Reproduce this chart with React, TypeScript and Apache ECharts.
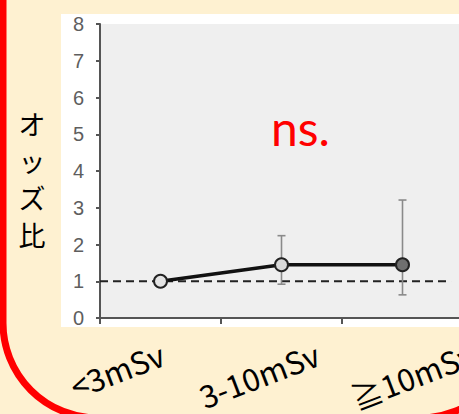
import React, { useEffect, useRef } from "react";
import * as echarts from "echarts";

// ---- data ----
const categories = ["<3mSv", "3-10mSv", "≧10mSv"];
const oddsRatio = [1.0, 1.45, 1.45];
const ciLow = [1.0, 0.92, 0.63];
const ciHigh = [1.0, 2.24, 3.21];
const yMin = 0;
const yMax = 8;
const yInterval = 1;
const referenceValue = 1;
const referenceExtent = [0, 0.967];
const yAxisTitle = "オッズ比";
const significance = "ns.";

// ---- styles ----
const markerFills = ["#e4e4e4", "#d9d9d9", "#6f6f6f"];

export default function App() {
  const ref = useRef<HTMLDivElement>(null);
  useEffect(() => {
    if (!ref.current) return;
    const chart = echarts.init(ref.current, null, { renderer: "svg" });
    const errData = categories
      .map((_, i) => [i, ciLow[i], ciHigh[i]])
      .filter((d) => d[2] - d[1] > 0.01);
    chart.setOption({
      animation: false,
      backgroundColor: "#FEF1D1",
      grid: [
        {
          left: 100,
          top: 24,
          bottom: 96,
          right: -4,
          containLabel: false,
          outerBoundsMode: "none",
          show: true,
          backgroundColor: "#EFEFEF",
          borderWidth: 0,
        },
        {
          // label band: the slide's category labels sit slightly wider apart
          left: 85,
          top: 24,
          bottom: 96,
          right: -91,
          containLabel: false,
          outerBoundsMode: "none",
          show: false,
        },
      ],
      xAxis: [
        {
          type: "category",
          gridIndex: 0,
          data: categories,
          boundaryGap: true,
          axisLine: { show: true, lineStyle: { color: "#555", width: 2 } },
          axisTick: { show: true, length: 6, lineStyle: { color: "#555", width: 2 } },
          axisLabel: { show: false },
          splitLine: { show: false },
        },
        {
          type: "value",
          gridIndex: 0,
          min: 0,
          max: 1,
          show: false,
        },
        {
          type: "category",
          gridIndex: 1,
          data: categories,
          boundaryGap: true,
          axisLine: { show: false },
          axisTick: { show: false },
          axisLabel: {
            interval: 0,
            rotate: 21,
            margin: 34,
            color: "#000",
            fontSize: 31,
            fontFamily: "Noto Sans CJK JP",
          },
          splitLine: { show: false },
        },
      ],
      yAxis: [
        {
          type: "value",
          gridIndex: 0,
          min: yMin,
          max: yMax,
          interval: yInterval,
          axisLine: { show: true, lineStyle: { color: "#555", width: 2 } },
          axisTick: { show: true, length: 4, lineStyle: { color: "#555", width: 2 } },
          axisLabel: {
            margin: 16,
            color: "#5e5e5e",
            fontSize: 20,
            fontFamily: "Liberation Sans",
          },
          splitLine: { show: false },
        },
        {
          type: "value",
          gridIndex: 1,
          min: yMin,
          max: yMax,
          interval: yInterval,
          show: false,
        },
      ],
      graphic: [
        {
          type: "rect",
          z: -100,
          silent: true,
          shape: { x: 61, y: 14, width: 420, height: 313 },
          style: { fill: "#FFFFFF" },
        },
        {
          type: "text",
          z: 100,
          style: {
            x: 32,
            y: 179,
            text: yAxisTitle.split("").join("\n"),
            fontSize: 27,
            lineHeight: 37,
            fontFamily: "Noto Sans CJK JP",
            fill: "#000",
            align: "center",
            verticalAlign: "middle",
          },
        },
        {
          type: "text",
          z: 100,
          style: {
            x: 271,
            y: 127,
            text: significance,
            fontSize: 48,
            fontFamily: "Lato",
            fill: "#FF0000",
            align: "left",
            verticalAlign: "middle",
          },
        },
        {
          type: "rect",
          z: 100,
          silent: true,
          shape: { x: 3, y: -100, width: 512, height: 518, r: 95 },
          style: { fill: "none", stroke: "#FF0000", lineWidth: 7 },
        },
      ],
      series: [
        {
          type: "line",
          xAxisIndex: 1,
          yAxisIndex: 0,
          data: referenceExtent.map((x) => [x, referenceValue]),
          symbol: "none",
          z: 1,
          lineStyle: { color: "#222", width: 2, type: [8, 5] },
        },
        {
          type: "custom",
          xAxisIndex: 0,
          yAxisIndex: 0,
          z: 2,
          data: errData,
          renderItem: (params: any, api: any) => {
            const x = api.value(0);
            const lo = api.coord([x, api.value(1)]);
            const hi = api.coord([x, api.value(2)]);
            const cap = 4;
            const st = { stroke: "#8a8a8a", lineWidth: 1.6 };
            return {
              type: "group",
              children: [
                { type: "line", shape: { x1: lo[0], y1: lo[1], x2: hi[0], y2: hi[1] }, style: st },
                { type: "line", shape: { x1: hi[0] - cap, y1: hi[1], x2: hi[0] + cap, y2: hi[1] }, style: st },
                { type: "line", shape: { x1: lo[0] - cap, y1: lo[1], x2: lo[0] + cap, y2: lo[1] }, style: st },
              ],
            };
          },
        },
        {
          type: "line",
          xAxisIndex: 0,
          yAxisIndex: 0,
          z: 3,
          data: oddsRatio.map((v, i) => ({
            value: v,
            itemStyle: { color: markerFills[i] },
          })),
          symbol: "circle",
          symbolSize: 13,
          itemStyle: { borderColor: "#222", borderWidth: 2 },
          lineStyle: { color: "#111", width: 3.5 },
        },
      ],
    });
    return () => chart.dispose();
  }, []);
  return (
    <div
      ref={ref}
      style={{ position: "fixed", left: 0, top: 0, width: 459, height: 414 }}
    />
  );
}
